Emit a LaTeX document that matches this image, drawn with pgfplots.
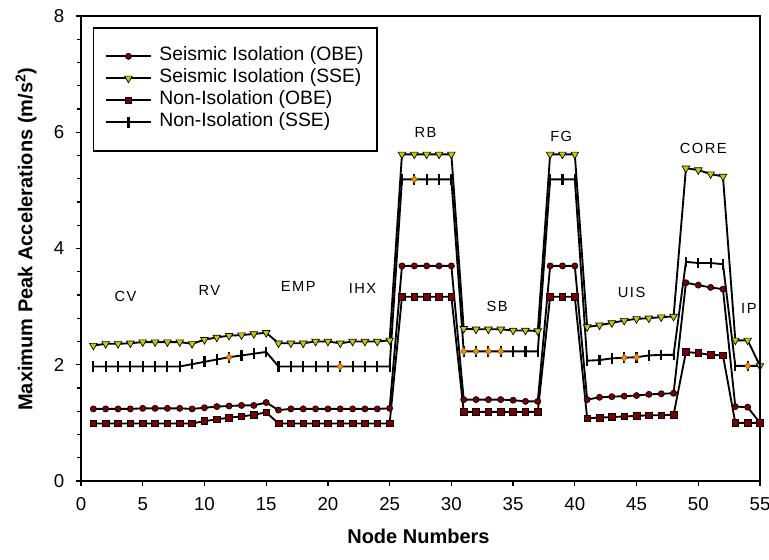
\documentclass[border=0pt]{standalone}
\usepackage{pgfplots}
\pgfplotsset{compat=1.18}
\usepackage{pgfplotstable}
\usepackage{fontspec}
\setmainfont{Liberation Sans}
\newfontfamily\spaced[LetterSpace=10]{Liberation Sans}
\definecolor{dred}{HTML}{7A0000}
\definecolor{ylw}{HTML}{C8C800}
\definecolor{orng}{HTML}{FF8C00}

\pgfplotstableread{
n sio sis nio nis
1 1.24 2.33 0.99 1.97
2 1.24 2.36 0.99 1.97
3 1.24 2.36 0.99 1.97
4 1.24 2.37 0.99 1.97
5 1.25 2.39 0.99 1.97
6 1.25 2.39 0.99 1.97
7 1.25 2.39 0.99 1.97
8 1.25 2.39 0.99 1.97
9 1.24 2.36 0.99 2.01
10 1.26 2.43 1.03 2.05
11 1.28 2.47 1.06 2.09
12 1.29 2.50 1.09 2.13
13 1.30 2.51 1.11 2.16
14 1.30 2.53 1.14 2.19
15 1.35 2.55 1.18 2.22
16 1.22 2.37 0.99 1.97
17 1.24 2.37 0.99 1.97
18 1.24 2.37 0.99 1.97
19 1.24 2.40 0.99 1.97
20 1.24 2.40 0.99 1.97
21 1.24 2.37 0.99 1.97
22 1.24 2.40 0.99 1.97
23 1.24 2.40 0.99 1.97
24 1.24 2.40 0.99 1.97
25 1.25 2.42 0.99 1.97
26 3.70 5.62 3.17 5.19
27 3.70 5.62 3.17 5.19
28 3.70 5.62 3.17 5.19
29 3.70 5.62 3.17 5.19
30 3.70 5.62 3.17 5.19
31 1.40 2.62 1.19 2.23
32 1.40 2.61 1.19 2.23
33 1.40 2.61 1.19 2.23
34 1.40 2.61 1.19 2.23
35 1.39 2.59 1.19 2.23
36 1.37 2.59 1.19 2.23
37 1.37 2.58 1.19 2.23
38 3.70 5.62 3.17 5.19
39 3.70 5.62 3.17 5.19
40 3.70 5.62 3.17 5.19
41 1.40 2.65 1.08 2.07
42 1.44 2.68 1.09 2.08
43 1.45 2.72 1.10 2.11
44 1.46 2.76 1.11 2.12
45 1.47 2.79 1.12 2.13
46 1.49 2.80 1.13 2.16
47 1.50 2.82 1.13 2.17
48 1.51 2.83 1.14 2.17
49 3.41 5.38 2.22 3.77
50 3.37 5.35 2.20 3.75
51 3.33 5.28 2.17 3.75
52 3.30 5.24 2.16 3.73
53 1.28 2.42 1.00 1.98
54 1.27 2.42 1.00 1.98
55 1.00 1.98 1.00 1.98
}\datatable

\pgfplotstableread{
n v
12 2.13
21 1.97
27 5.19
31 2.23
32 2.23
33 2.23
34 2.23
44 2.12
45 2.13
54 1.98
}\orangepts

\begin{document}
\begin{tikzpicture}
\begin{axis}[
  scale only axis,
  width=509.25pt, height=348.75pt,
  xmin=0, xmax=55, ymin=0, ymax=8,
  xtick={0,5,...,55}, ytick={0,2,...,8},
  minor y tick num=4,
  xtick pos=left, ytick pos=left,
  tick align=outside,
  major tick length=4pt, minor tick length=3pt,
  every tick/.style={black, line width=0.9pt},
  axis line style={line width=1.3pt},
  tick label style={font=\fontsize{14}{16}\selectfont},
  xticklabel style={yshift=-5pt},
  yticklabel style={xshift=-5pt},
  /pgf/number format/assume math mode=true,
  xlabel={Node Numbers},
  ylabel={Maximum Peak Accelerations (m/s\textsuperscript{2})},
  label style={font=\fontsize{15}{17}\selectfont\bfseries},
  xlabel style={at={(axis description cs:0.497,-0.12)}, anchor=center},
  ylabel style={at={(axis description cs:-0.081,0.52)}, anchor=center, rotate=0},
  legend cell align=left,
  legend style={at={(axis description cs:0.017,0.976)}, anchor=north west,
    draw=black, line width=1.3pt, inner xsep=8.5pt, inner ysep=13pt,
    row sep=0pt, column sep=4pt,
    font=\fontsize{14.5}{16}\selectfont,
    nodes={inner sep=1.5pt, text height=10pt, text depth=3.5pt}},
  legend image code/.code={\draw[mark repeat=2,mark phase=2] plot coordinates {(0cm,0cm) (0.6cm,0cm) (1.2cm,0cm)};},
  every axis plot/.append style={line width=1.4pt},
]
\addplot[black, mark=*, mark size=2.3pt, mark options={fill=dred, draw=black, line width=0.5pt}] table[x=n, y=sio] {\datatable};
\addlegendentry{Seismic Isolation (OBE)}
\addplot[black, mark=triangle*, mark size=3.3pt, mark options={rotate=180, fill=ylw, draw=black, line width=0.5pt}] table[x=n, y=sis] {\datatable};
\addlegendentry{Seismic Isolation (SSE)}
\addplot[black, mark=square*, mark size=2.5pt, mark options={fill=dred, draw=black, line width=0.5pt}] table[x=n, y=nio] {\datatable};
\addlegendentry{Non-Isolation (OBE)}
\addplot[black, mark=|, mark size=4pt, mark options={line width=1.6pt}] table[x=n, y=nis] {\datatable};
\addlegendentry{Non-Isolation (SSE)}
\addplot[only marks, mark=diamond*, mark size=2.8pt, mark options={fill=orng, draw=orng!60!black, line width=0.4pt}, forget plot] table[x=n, y=v] {\orangepts};

\node[font=\spaced\fontsize{11}{12}\selectfont] at (axis cs:3.6,3.17) {CV};
\node[font=\spaced\fontsize{11}{12}\selectfont] at (axis cs:10.4,3.28) {RV};
\node[font=\spaced\fontsize{11}{12}\selectfont] at (axis cs:17.6,3.34) {EMP};
\node[font=\spaced\fontsize{11}{12}\selectfont] at (axis cs:22.8,3.31) {IHX};
\node[font=\spaced\fontsize{11}{12}\selectfont] at (axis cs:27.9,6.0) {RB};
\node[font=\spaced\fontsize{11}{12}\selectfont] at (axis cs:33.7,3.0) {SB};
\node[font=\spaced\fontsize{11}{12}\selectfont] at (axis cs:38.9,5.93) {FG};
\node[font=\spaced\fontsize{11}{12}\selectfont] at (axis cs:44.6,3.24) {UIS};
\node[font=\spaced\fontsize{11}{12}\selectfont] at (axis cs:50.4,5.72) {CORE};
\node[font=\spaced\fontsize{11}{12}\selectfont] at (axis cs:54.1,2.97) {IP};

\coordinate (bl) at (rel axis cs:0,0);
\coordinate (tr) at (rel axis cs:1,1);
\end{axis}
\pgfresetboundingbox
\path[use as bounding box] ([shift={(-60.75pt,-59.25pt)}]bl) rectangle ([shift={(6.75pt,12pt)}]tr);
\end{tikzpicture}
\end{document}
